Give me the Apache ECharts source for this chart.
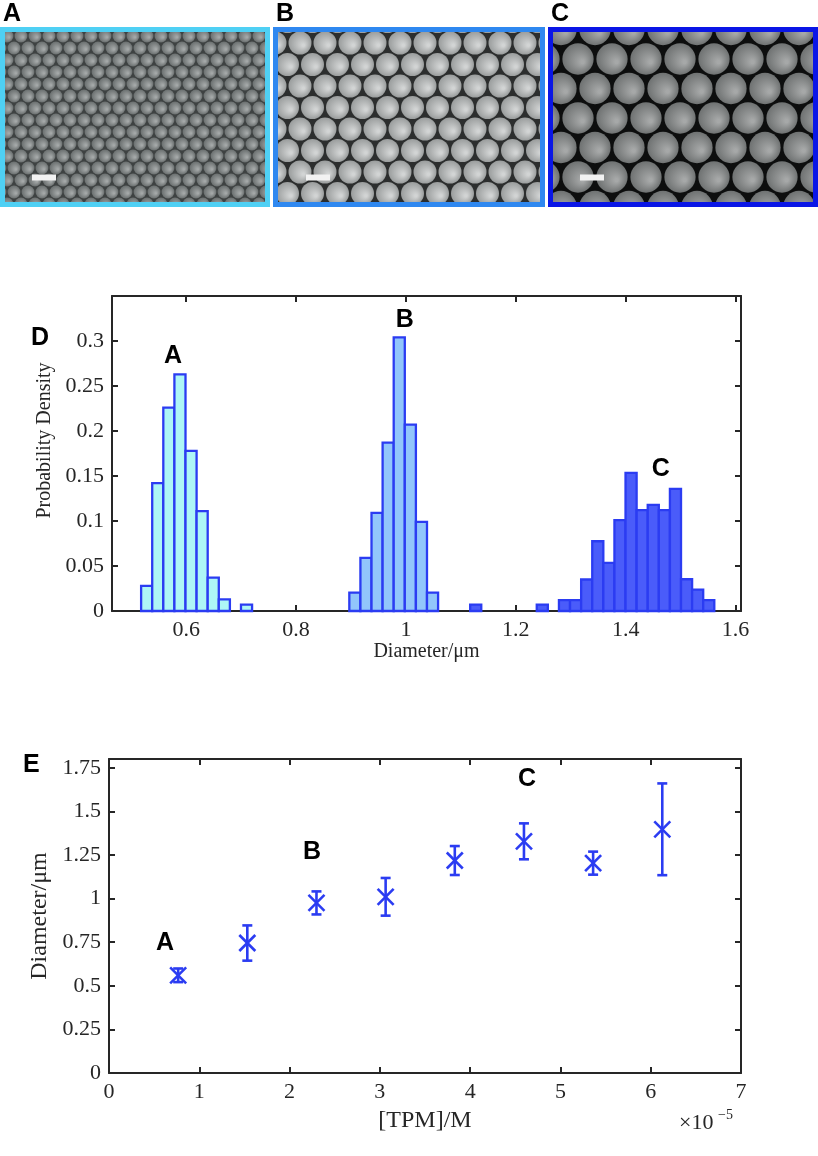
<!DOCTYPE html>
<html lang="en">
<head>
<meta charset="UTF-8">
<title>TPM particles</title>
<script src="https://cdn.jsdelivr.net/npm/echarts@6/dist/echarts.min.js"></script>
<style>
    html, body {margin: 0; padding: 0; background: #fff;}
    #main {width: 818px; height: 1156px;}
</style>
</head>
<body>
<div id="main"></div>
<script type="text/javascript">
    // panel D: histograms (probability per bin), bins are ~0.0202 um wide
    var binWidth = 0.0202;
    var startA = 0.518, startB = 0.897, startC = 1.117;
    var heightsA = [0.028, 0.142, 0.226, 0.263, 0.178, 0.111, 0.037, 0.013, 0, 0.007];
    var heightsB = [0.0205, 0.059, 0.109, 0.187, 0.304, 0.207, 0.099, 0.0205];
    var heightsC = [0.007, 0, 0, 0, 0, 0, 0.007, 0, 0.012, 0.012, 0.035, 0.0775, 0.0534, 0.101,
        0.1535, 0.112, 0.118, 0.112, 0.1357, 0.0353, 0.0238, 0.012];
    var dTicksX = [0.6, 0.8, 1.0, 1.2, 1.4, 1.6];
    var dTicksY = [0, 0.05, 0.1, 0.15, 0.2, 0.25, 0.3, 0.35];
    var dLabelsY = [0, 0.05, 0.1, 0.15, 0.2, 0.25, 0.3];
    var dPeaks = [['A', 0.576, 0.283], ['B', 0.998, 0.323], ['C', 1.464, 0.158]];

    // panel E: diameter vs TPM concentration (x in 1e-5 M)
    var tpm = [0.766, 1.532, 2.298, 3.064, 3.830, 4.596, 5.362, 6.128];
    var diameter = [0.560, 0.745, 0.975, 1.010, 1.218, 1.328, 1.203, 1.397];
    var diameterErr = [0.039, 0.101, 0.066, 0.108, 0.083, 0.103, 0.066, 0.263];
    var eTicksX = [0, 1, 2, 3, 4, 5, 6, 7];
    var eTicksY = [0, 0.25, 0.5, 0.75, 1, 1.25, 1.5, 1.75];
    var ePeaks = [['A', 0.62, 0.745], ['B', 2.25, 1.265], ['C', 4.63, 1.683]];

    var edge = '#2b3cf2';
    var ink = '#262626';
    var serif = 'Liberation Serif';
    var sans = 'Liberation Sans';

    function bins(start, heights) {
        var out = [];
        for (var i = 0; i < heights.length; i++) {
            if (heights[i] > 0) {
                out.push([start + i * binWidth, start + (i + 1) * binWidth, heights[i]]);
            }
        }
        return out;
    }

    function histItem(fill) {
        return function (params, api) {
            var p0 = api.coord([api.value(0), api.value(2)]);
            var p1 = api.coord([api.value(1), 0]);
            return {
                type: 'rect',
                shape: {x: p0[0], y: p0[1], width: p1[0] - p0[0], height: p1[1] - p0[1]},
                style: {fill: fill, stroke: edge, lineWidth: 2.3}
            };
        };
    }

    function errItem(params, api) {
        var x = api.value(0), y = api.value(1), e = api.value(2);
        var c = api.coord([x, y]);
        var t = api.coord([x, y + e]);
        var b = api.coord([x, y - e]);
        var w = 5, m = 8;
        var st = {stroke: edge, lineWidth: 2.6};
        return {
            type: 'group',
            children: [
                {type: 'line', shape: {x1: c[0], y1: t[1], x2: c[0], y2: b[1]}, style: st},
                {type: 'line', shape: {x1: c[0] - w, y1: t[1], x2: c[0] + w, y2: t[1]}, style: st},
                {type: 'line', shape: {x1: c[0] - w, y1: b[1], x2: c[0] + w, y2: b[1]}, style: st},
                {type: 'line', shape: {x1: c[0] - m, y1: c[1] - m, x2: c[0] + m, y2: c[1] + m}, style: st},
                {type: 'line', shape: {x1: c[0] - m, y1: c[1] + m, x2: c[0] + m, y2: c[1] - m}, style: st}
            ]
        };
    }

    // texture that stands in for the SEM pictures
    function spheres(d, bg, light, dark) {
        var h = Math.round(d * 1.732);
        var cv = document.createElement('canvas');
        cv.width = d;
        cv.height = h;
        var ctx = cv.getContext('2d');
        ctx.fillStyle = bg;
        ctx.fillRect(0, 0, d, h);
        var centers = [[0, 0], [d, 0], [d / 2, h / 2], [0, h], [d, h]];
        var r = d * 0.46;
        centers.forEach(function (p) {
            var g = ctx.createRadialGradient(p[0] + r * 0.3, p[1] + r * 0.2, r * 0.1, p[0], p[1], r);
            g.addColorStop(0, light);
            g.addColorStop(1, dark);
            ctx.fillStyle = g;
            ctx.beginPath();
            ctx.arc(p[0], p[1], r, 0, Math.PI * 2);
            ctx.fill();
        });
        return cv;
    }

    function semPanel(x, w, color, letter, tex, barX) {
        return [
            {
                type: 'rect',
                shape: {x: x + 2.5, y: 29.5, width: w - 5, height: 175},
                style: {fill: {image: tex, repeat: 'repeat'}, stroke: color, lineWidth: 5}
            },
            {type: 'rect', shape: {x: barX, y: 174.5, width: 24, height: 6}, style: {fill: '#f2f2f2'}},
            {
                type: 'text', x: x + 3, y: 14,
                style: {text: letter, font: 'bold 25px ' + sans, fill: '#000', verticalAlign: 'middle'}
            }
        ];
    }

    function axisBase(labels) {
        return {
            type: 'value',
            axisLine: {show: true, onZero: false, lineStyle: {color: ink, width: 2}},
            axisTick: {show: true, inside: true, length: 6, lineStyle: {color: ink, width: 2}},
            splitLine: {show: false},
            axisLabel: {show: labels, fontFamily: serif, fontSize: 22, color: ink}
        };
    }

    function axis(extra, labels, ticks, labelValues) {
        var a = axisBase(labels);
        a.axisTick.customValues = ticks;
        if (labels) {
            a.axisLabel.customValues = labelValues || ticks;
        }
        return Object.assign(a, extra);
    }

    function peakSeries(peaks, xi, yi) {
        return {
            type: 'scatter',
            xAxisIndex: xi,
            yAxisIndex: yi,
            symbolSize: 1,
            itemStyle: {color: 'transparent', opacity: 1},
            silent: true,
            label: {
                show: true, position: 'inside', formatter: '{b}', opacity: 1,
                fontFamily: sans, fontWeight: 'bold', fontSize: 25, color: '#000',
                textBorderWidth: 0
            },
            data: peaks.map(function (p) {
                return {name: p[0], value: [p[1], p[2]]};
            })
        };
    }

    var dom = document.getElementById('main');
    var myChart = echarts.init(dom, null, {renderer: 'canvas'});

    var graphics = []
        .concat(semPanel(0, 270, '#4fd0f4', 'A', spheres(14, '#3e4242', '#a4a8a8', '#6a6f6f'), 32))
        .concat(semPanel(273, 272, '#2f88f0', 'B', spheres(25, '#2c2e2e', '#d2d4d4', '#9a9d9d'), 306))
        .concat(semPanel(548, 270, '#0a16e6', 'C', spheres(34, '#0d0e0e', '#a6a8a8', '#6f7272'), 580));
    graphics.push(
        {type: 'text', x: 31, y: 338, style: {text: 'D', font: 'bold 25px ' + sans, fill: '#000', verticalAlign: 'middle'}},
        {type: 'text', x: 23, y: 765, style: {text: 'E', font: 'bold 25px ' + sans, fill: '#000', verticalAlign: 'middle'}},
        {type: 'text', x: 679, y: 1123, style: {text: '×10', font: '22px ' + serif, fill: ink, verticalAlign: 'middle'}},
        {type: 'text', x: 718, y: 1115, style: {text: '−5', font: '14px ' + serif, fill: ink, verticalAlign: 'middle'}}
    );

    var option = {
        animation: false,
        grid: [
            {left: 112, top: 296, width: 629, height: 315},
            {left: 109, top: 759, width: 632, height: 314}
        ],
        xAxis: [
            axis({
                gridIndex: 0, position: 'bottom', min: 0.465, max: 1.61,
                name: 'Diameter/μm', nameLocation: 'middle', nameGap: 23,
                nameTextStyle: {fontFamily: serif, fontSize: 20, color: ink, verticalAlign: 'middle'}
            }, true, dTicksX),
            axis({gridIndex: 0, position: 'top', min: 0.465, max: 1.61}, false, dTicksX),
            axis({
                gridIndex: 1, position: 'bottom', min: 0, max: 7,
                name: '[TPM]/M', nameLocation: 'middle', nameGap: 48,
                nameTextStyle: {fontFamily: serif, fontSize: 24, color: ink, verticalAlign: 'middle'}
            }, true, eTicksX),
            axis({gridIndex: 1, position: 'top', min: 0, max: 7}, false, eTicksX)
        ],
        yAxis: [
            axis({
                gridIndex: 0, position: 'left', min: 0, max: 0.35,
                name: 'Probability Density', nameLocation: 'middle', nameGap: 64, nameRotate: 90,
                nameTextStyle: {fontFamily: serif, fontSize: 20, color: ink, verticalAlign: 'middle', padding: [0, 0, 0, 26]}
            }, true, dTicksY, dLabelsY),
            axis({gridIndex: 0, position: 'right', min: 0, max: 0.35}, false, dTicksY),
            axis({
                gridIndex: 1, position: 'left', min: 0, max: 1.8,
                name: 'Diameter/μm', nameLocation: 'middle', nameGap: 68, nameRotate: 90,
                nameTextStyle: {fontFamily: serif, fontSize: 24, color: ink, verticalAlign: 'middle'}
            }, true, eTicksY),
            axis({gridIndex: 1, position: 'right', min: 0, max: 1.8}, false, eTicksY)
        ],
        graphic: graphics,
        series: [
            {
                type: 'custom', xAxisIndex: 0, yAxisIndex: 0,
                renderItem: histItem('#aef6f6'), encode: {x: [0, 1], y: 2},
                data: bins(startA, heightsA)
            },
            {
                type: 'custom', xAxisIndex: 0, yAxisIndex: 0,
                renderItem: histItem('#92c6fb'), encode: {x: [0, 1], y: 2},
                data: bins(startB, heightsB)
            },
            {
                type: 'custom', xAxisIndex: 0, yAxisIndex: 0,
                renderItem: histItem('#4a5cfa'), encode: {x: [0, 1], y: 2},
                data: bins(startC, heightsC)
            },
            {
                type: 'custom', xAxisIndex: 2, yAxisIndex: 2,
                renderItem: errItem, encode: {x: 0, y: 1},
                data: tpm.map(function (v, i) {
                    return [v, diameter[i], diameterErr[i]];
                })
            },
            peakSeries(dPeaks, 0, 0),
            peakSeries(ePeaks, 2, 2)
        ]
    };

    myChart.setOption(option);
</script>
</body>
</html>
